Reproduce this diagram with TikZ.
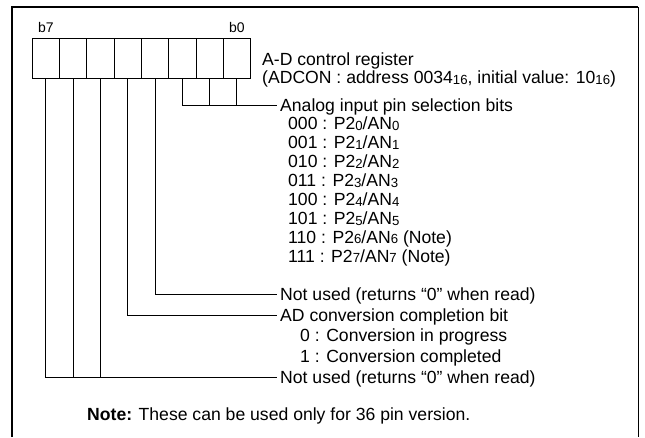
\documentclass[tikz,border=0pt]{standalone}
\usepackage{fontspec}
\setmainfont{Liberation Sans}
\newcommand{\sbs}[1]{\raisebox{-0.8pt}{\fontsize{13.2}{13.2}\selectfont #1}}
\begin{document}
\begin{tikzpicture}[x=1pt,y=-1pt,
  cell/.style={draw, line width=0.9pt, minimum width=27.3pt, minimum height=40pt, inner sep=0pt, anchor=north west},
  conn/.style={line width=0.9pt},
  lbl/.style={anchor=west, inner xsep=3pt, inner ysep=0pt, text height=12.4pt, text depth=0pt, font=\fontsize{17.6}{19}\selectfont},
  sublbl/.style={lbl, inner xsep=0pt},
  bitlbl/.style={font=\fontsize{14}{14}\selectfont, inner sep=0pt}]
\useasboundingbox (0,0) rectangle (645,437);
% frame
\draw[line width=1.8pt] (12,437) -- (12,7) -- (638,7);
\draw[line width=1pt] (638,7) -- (638,437);
% register cells
\foreach \b [count=\i from 0] in {7,6,5,4,3,2,1,0}
  \node[cell] (r\b) at ({31.7+27.3*\i},37.7) {};
\node[bitlbl, above=4.5pt] (lb7) at (r7.north) {b7};
\node[bitlbl, above=4.5pt] (lb0) at (r0.north) {b0};
% title
\node[sublbl] (title1) at (262,59.5) {A-D control register};
\node[sublbl] (title2) at (262,77.5) {(ADCON : address 0034\sbs{16}, initial value: 10\sbs{16})};
% labels
\node[lbl] (tA) at (277,105) {Analog input pin selection bits};
\foreach \t [count=\i from 0] in {%
  000 : P2\sbs{0}/AN\sbs{0},
  001 : P2\sbs{1}/AN\sbs{1},
  010 : P2\sbs{2}/AN\sbs{2},
  011 : P2\sbs{3}/AN\sbs{3},
  100 : P2\sbs{4}/AN\sbs{4},
  101 : P2\sbs{5}/AN\sbs{5},
  110 : P2\sbs{6}/AN\sbs{6} (Note),
  111 : P2\sbs{7}/AN\sbs{7} (Note)}
  \node[sublbl] (row\i) at (288,{123.5+18.9*\i}) {\t};
\node[lbl] (tN1) at (277,294) {Not used (returns “0” when read)};
\node[lbl] (tAD) at (277,315) {AD conversion completion bit};
\node[sublbl] (ad0) at (300,335.5) {0 : Conversion in progress};
\node[sublbl] (ad1) at (300,356) {1 : Conversion completed};
\node[lbl] (tN2) at (277,377) {Not used (returns “0” when read)};
\node[sublbl] (note) at (87,414) {\textbf{Note:} These can be used only for 36 pin version.};
% connectors
\draw[conn] (r2.south) |- (tA.west);
\draw[conn] (r1.south) -- (r1.south |- tA.west);
\draw[conn] (r0.south) -- (r0.south |- tA.west);
\draw[conn] (r3.south) |- (tN1.west);
\draw[conn] (r4.south) |- (tAD.west);
\draw[conn] (r7.south) |- (tN2.west);
\draw[conn] (r6.south) -- (r6.south |- tN2.west);
\draw[conn] (r5.south) -- (r5.south |- tN2.west);
\end{tikzpicture}
\end{document}
